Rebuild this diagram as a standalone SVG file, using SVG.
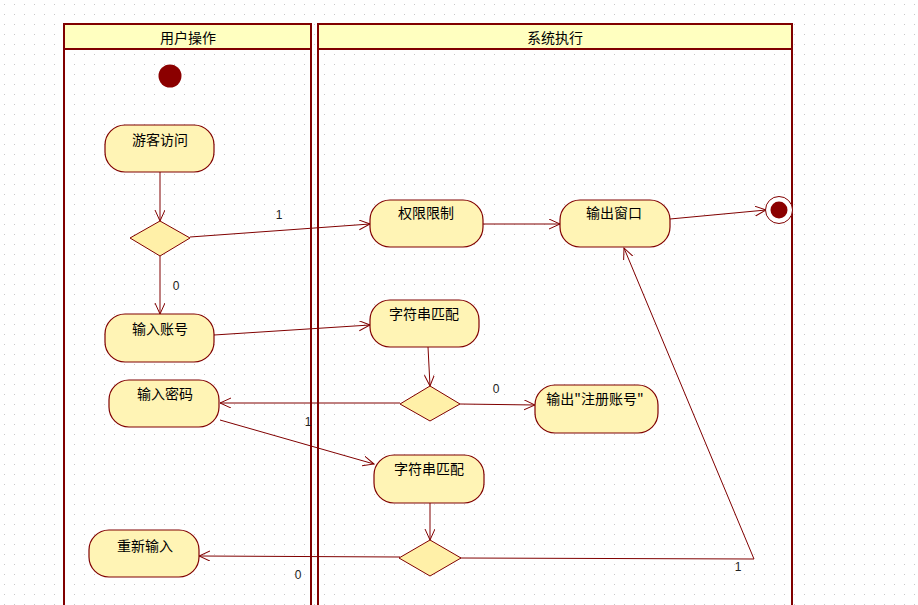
<svg xmlns="http://www.w3.org/2000/svg" width="918" height="605" viewBox="0 0 918 605">
<style>
.lane{fill:none;stroke:#800000;stroke-width:2}
.hdr{fill:#FFFFC0;stroke:#800000;stroke-width:2}
.node{fill:#FFF4B5;stroke:#800000;stroke-width:1.2}
.dec{fill:#FFF0A8;stroke:#800000;stroke-width:1}
.t{font-family:"Noto Sans CJK SC","Noto Sans",sans-serif;font-size:14px;fill:#000;text-anchor:middle}
.lbl{font-family:"Liberation Sans",Arial,sans-serif;font-size:12px;fill:#222;text-anchor:middle}
.c{fill:none;stroke:#800000;stroke-width:1;marker-end:url(#arr)}
</style>
<defs>
<pattern id="grid" width="10" height="10" patternUnits="userSpaceOnUse">
<rect x="4" y="4" width="1" height="1" fill="#C8C8C8"/>
</pattern>
<marker id="arr" markerWidth="12" markerHeight="12" refX="11" refY="5" orient="auto" markerUnits="userSpaceOnUse">
<path d="M0,0 L11,5 L0,10" fill="none" stroke="#800000" stroke-width="1"/>
</marker>
</defs>
<rect width="918" height="605" fill="#fff"/>
<rect width="918" height="605" fill="url(#grid)"/>
<g id="lane-user">
<rect class="hdr" x="64" y="24" width="247" height="25"/>
<path class="lane" d="M64,49 V606 M311,49 V606"/>
<text class="t" x="188" y="43">用户操作</text>
</g>
<g id="lane-system">
<rect class="hdr" x="318" y="24" width="474" height="25"/>
<path class="lane" d="M318,49 V606 M792,49 V606"/>
<text class="t" x="555" y="43">系统执行</text>
</g>
<g id="connectors">
<path class="c" d="M160,172 V221"/>
<path class="c" d="M190,237 L370,224"/>
<path class="c" d="M160,256 V314"/>
<path class="c" d="M483,224 L560,224"/>
<path class="c" d="M670,219 L766,210"/>
<path class="c" d="M214,335 L370,325"/>
<path class="c" d="M428,347 L430,386"/>
<path class="c" d="M400,403 L220,403"/>
<path class="c" d="M460,404 L535,405"/>
<path class="c" d="M220,420 L374,464"/>
<path class="c" d="M430,503 V540"/>
<path class="c" d="M400,557 L199,556"/>
<path class="c" d="M460,558 L754,559 L624,248"/>
<text class="lbl" x="279" y="219">1</text>
<text class="lbl" x="176" y="290">0</text>
<text class="lbl" x="496" y="393">0</text>
<text class="lbl" x="308" y="426">1</text>
<text class="lbl" x="298" y="579">0</text>
<text class="lbl" x="738" y="571">1</text>
</g>
<g id="start"><circle cx="170" cy="76" r="11.5" fill="#8B0000"/></g>
<g id="n-visit"><rect class="node" x="105" y="125" width="109" height="47" rx="20"/><text class="t" x="160" y="145">游客访问</text></g>
<g id="d1"><polygon class="dec" points="160,221 190,238 160,256 130,238"/></g>
<g id="n-perm"><rect class="node" x="370" y="200" width="113" height="47" rx="20"/><text class="t" x="426" y="218">权限限制</text></g>
<g id="n-window"><rect class="node" x="560" y="200" width="110" height="47" rx="20"/><text class="t" x="614" y="218">输出窗口</text></g>
<g id="end"><circle cx="779" cy="210" r="13.5" fill="#fff" stroke="#800000" stroke-width="1"/><circle cx="779" cy="210" r="8.5" fill="#8B0000"/></g>
<g id="n-account"><rect class="node" x="105" y="314" width="109" height="48" rx="20"/><text class="t" x="160" y="334">输入账号</text></g>
<g id="n-match1"><rect class="node" x="370" y="300" width="109" height="47" rx="20"/><text class="t" x="424" y="319">字符串匹配</text></g>
<g id="d2"><polygon class="dec" points="430,386 460,404 430,421 400,404"/></g>
<g id="n-register"><rect class="node" x="535" y="385" width="123" height="48" rx="20"/><text class="t" x="595" y="404">输出"注册账号"</text></g>
<g id="n-password"><rect class="node" x="109" y="380" width="110" height="47" rx="20"/><text class="t" x="165" y="399">输入密码</text></g>
<g id="n-match2"><rect class="node" x="374" y="455" width="110" height="48" rx="20"/><text class="t" x="429" y="474">字符串匹配</text></g>
<g id="d3"><polygon class="dec" points="430,540 461,558 430,576 399,558"/></g>
<g id="n-retry"><rect class="node" x="89" y="530" width="110" height="47" rx="20"/><text class="t" x="145" y="551">重新输入</text></g>
</svg>
